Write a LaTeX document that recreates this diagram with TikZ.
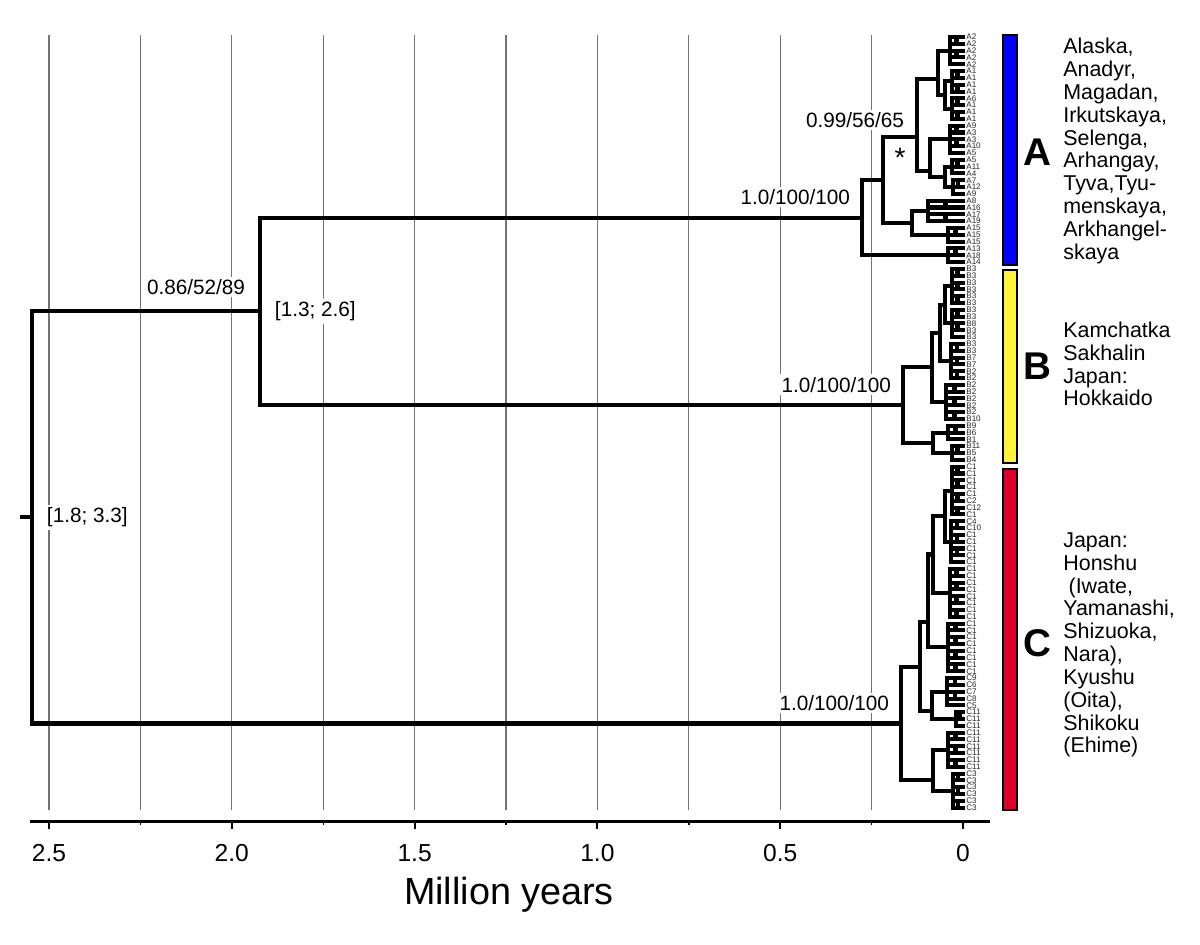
\documentclass[tikz,border=0pt]{standalone}
\usepackage{fontspec}
\setmainfont{Liberation Sans}
\usepackage{tikz}
\usetikzlibrary{calc,positioning}
\pgfdeclarelayer{background}
\pgfsetlayers{background,main}
\definecolor{cladeA}{RGB}{0,0,255}
\definecolor{cladeB}{RGB}{255,243,58}
\definecolor{cladeC}{RGB}{221,0,42}
\colorlet{gridgray}{black!55}

% tip i sits at y = 37 + 6.82 i (picture units are pixels, 0 Myr at x = 963)
\newcommand\tipclade[4]{%
  \coordinate (#1) at (#2,{37+6.82*(#3+#4)/2});
  \draw[tree] (#2,{37+6.82*#3}) -- (#2,{37+6.82*#4});
  \foreach \k in {#3,...,#4}{\draw[tree] (#2,{37+6.82*\k}) -- (963,{37+6.82*\k});}
  \pgfmathtruncatemacro\tipnext{#3+2}%
  \pgfmathsetmacro\tipmid{(#2+963)/2}%
  \foreach \k in {#3,\tipnext,...,#4}{%
    \ifnum\k<#4 \draw[tree] (\tipmid,{37+6.82*\k}) -- (\tipmid,{37+6.82*(\k+1)});\fi}%
}
% [position between the two children]{name}{x}{upper child}{lower child}
\newcommand\joinclade[5][0.5]{%
  \coordinate (#2m) at ($(#4)!#1!(#5)$);
  \coordinate (#2x) at (#3,0);
  \coordinate (#2) at (#2m -| #2x);
  \draw[tree] (#4) -- (#4 -| #2) -- (#5 -| #2) -- (#5);
}

\begin{document}
\begin{tikzpicture}[x=0.02cm,y=-0.02cm,
    tree/.style={line width=2.3pt,line cap=rect},
    gridline/.style={gridgray,line width=0.6pt},
    axisline/.style={line width=1.7pt},
    support/.style={font=\fontsize{11.8}{13}\selectfont,fill=white,inner sep=1.5pt},
    ticklab/.style={font=\fontsize{14}{16}\selectfont},
    tiplab/.style={font=\fontsize{4.6}{4.6}\selectfont,anchor=west,inner sep=0,text=black!85},
    cladebar/.style={draw,line width=0.8pt},
    cladeletter/.style={font=\bfseries\fontsize{22}{22}\selectfont},
    region/.style={align=left,anchor=west,inner sep=0,font=\fontsize{12.2}{13}\selectfont}]
  \useasboundingbox (0,0) rectangle (1200,944);

  % time grid
  \begin{pgfonlayer}{background}
    \foreach \t in {0.25,0.5,...,2.5}
      \draw[gridline] ({963-365.6*\t},35) -- ({963-365.6*\t},810);
  \end{pgfonlayer}

  % clade A
  \tipclade{aT1}{950}{0}{4}
  \tipclade{aT2a}{952}{5}{8}
  \tipclade{aT2b}{952}{9}{12}
  \joinclade{aT2}{945}{aT2a}{aT2b}
  \joinclade[0.65]{aT}{938}{aT1}{aT2}
  \tipclade{aQ}{950}{13}{17}
  \tipclade{aR1}{952}{18}{20}
  \tipclade{aR2}{953}{21}{23}
  \joinclade{aR}{945}{aR1}{aR2}
  \joinclade[0.85]{aU}{930}{aQ}{aR}
  \joinclade[0.63]{aUp}{917}{aT}{aU}
  \tipclade{aW}{928}{24}{27}
  \tipclade{aX}{948}{28}{30}
  \joinclade{aV}{912}{aW}{aX}
  \joinclade{nAs}{883}{aUp}{aV}
  \tipclade{aLow}{948}{31}{33}
  \joinclade{nA}{862}{nAs}{aLow}

  % clade B
  \tipclade{bP1}{952}{34}{39}
  \tipclade{bP2}{952}{40}{44}
  \joinclade{bP}{945}{bP1}{bP2}
  \tipclade{bQ}{951}{45}{50}
  \joinclade{bUp}{940}{bP}{bQ}
  \tipclade{bR}{946}{51}{56}
  \joinclade{bOne}{932}{bUp}{bR}
  \tipclade{bS1}{948}{57}{59}
  \tipclade{bS2}{952}{60}{62}
  \joinclade{bTwo}{933}{bS1}{bS2}
  \joinclade{nB}{903}{bOne}{bTwo}

  % clade C
  \tipclade{cP1}{952}{63}{70}
  \tipclade{cP2}{951}{71}{77}
  \joinclade{cPa}{945}{cP1}{cP2}
  \tipclade{cP3}{950}{78}{85}
  \joinclade{cPb}{933}{cPa}{cP3}
  \tipclade{cP4}{948}{86}{93}
  \joinclade[0.73]{cOneA}{928}{cPb}{cP4}
  \tipclade{cP5}{947}{94}{98}
  \tipclade{cP6}{956}{99}{101}
  \joinclade[0.7]{cOneB}{932}{cP5}{cP6}
  \joinclade{cOne}{920}{cOneA}{cOneB}
  \tipclade{cP7}{948}{102}{107}
  \tipclade{cP8}{953}{108}{113}
  \joinclade[0.75]{cTwo}{933}{cP7}{cP8}
  \joinclade{nC}{901}{cOne}{cTwo}

  % deep nodes
  \joinclade{nAB}{260}{nA}{nB}
  \joinclade{root}{32}{nAB}{nC}
  \draw[tree] (root) -- ++(-10,0);

  % support values and age intervals
  \node[support,anchor=base east] (supAB) at ([shift={(-12,-17)}]nAB) {0.86/52/89};
  \node[support,anchor=west] (hpdAB) at ([shift={(12,0)}]nAB) {[1.3; 2.6]};
  \node[support,anchor=west] (hpdRoot) at ([shift={(12,0)}]root) {[1.8; 3.3]};
  \node[support,anchor=base east] (supA) at ([shift={(-9,-13)}]nA) {1.0/100/100};
  \node[support,anchor=base east] (supB) at ([shift={(-9,-13)}]nB) {1.0/100/100};
  \node[support,anchor=base east] (supC) at ([shift={(-9,-13)}]nC) {1.0/100/100};
  \coordinate (nAsTop) at (aUp -| nAs);
  \node[support,anchor=base east] (supAs) at ([shift={(24,-10)}]nAsTop) {0.99/56/65};
  \node[font=\fontsize{16}{16}\selectfont,inner sep=0] (star) at ([shift={(17,21)}]nAsTop) {*};

  % tip labels
  \foreach \lab [count=\k from 0] in {A2,A2,A2,A2,A2,A1,A1,A1,A1,A6,A1,A1,A1,A9,A3,A3,A10,A5,A5,A11,A4,A7,A12,A9,A8,A16,A17,A19,A15,A15,A15,A13,A18,A14,
      B3,B3,B3,B3,B3,B3,B3,B3,B8,B3,B3,B3,B3,B7,B7,B2,B2,B2,B2,B2,B2,B2,B10,B9,B6,B1,B11,B5,B4,
      C1,C1,C1,C1,C1,C2,C12,C1,C4,C10,C1,C1,C1,C1,C1,C1,C1,C1,C1,C1,C1,C1,C1,C1,C1,C1,C1,C1,C1,C1,C1,
      C9,C6,C7,C8,C5,C11,C11,C11,C11,C11,C11,C11,C11,C11,C3,C3,C3,C3,C3,C3}
    \node[tiplab] (tip\k) at (966,{37+6.82*\k}) {\lab};

  % time axis
  \draw[axisline] (30,821) coordinate (axL) -- (990,821) coordinate (axR);
  \foreach \t/\txt in {0/0,0.5/0.5,1/1.0,1.5/1.5,2/2.0,2.5/2.5}{
    \draw[line width=1.2pt] ({963-365.6*\t},821) -- ({963-365.6*\t},829);
    \node[ticklab] (tick\txt) at ({963-365.6*\t},853) {\txt};
  }
  \foreach \t in {0.25,0.75,1.25,1.75,2.25}
    \draw[line width=0.8pt] ({963-365.6*\t},821) -- ({963-365.6*\t},825);
  \node[font=\fontsize{21.5}{24}\selectfont] (xlabel) at (509,895) {Million years};

  % clade bars
  \draw[cladebar,fill=cladeA] (1003,35) rectangle (1017,265);
  \draw[cladebar,fill=cladeB] (1003,270) rectangle (1017,463);
  \draw[cladebar,fill=cladeC] (1003,469) rectangle (1017,810);
  \node[cladeletter] (letA) at (1037,152) {A};
  \node[cladeletter] (letB) at (1037,366) {B};
  \node[cladeletter] (letC) at (1037,643) {C};
  \node[region] (placeA) at (1063,151) {Alaska,\\Anadyr,\\Magadan,\\Irkutskaya,\\Selenga,\\Arhangay,\\Tyva,Tyu-\\menskaya,\\Arkhangel-\\skaya};
  \node[region] (placeB) at (1063,364) {Kamchatka\\Sakhalin\\Japan:\\Hokkaido};
  \node[region] (placeC) at (1063,645) {Japan:\\Honshu\\\hspace*{3pt}(Iwate,\\Yamanashi,\\Shizuoka,\\Nara),\\Kyushu\\(Oita),\\Shikoku\\(Ehime)};
\end{tikzpicture}
\end{document}
